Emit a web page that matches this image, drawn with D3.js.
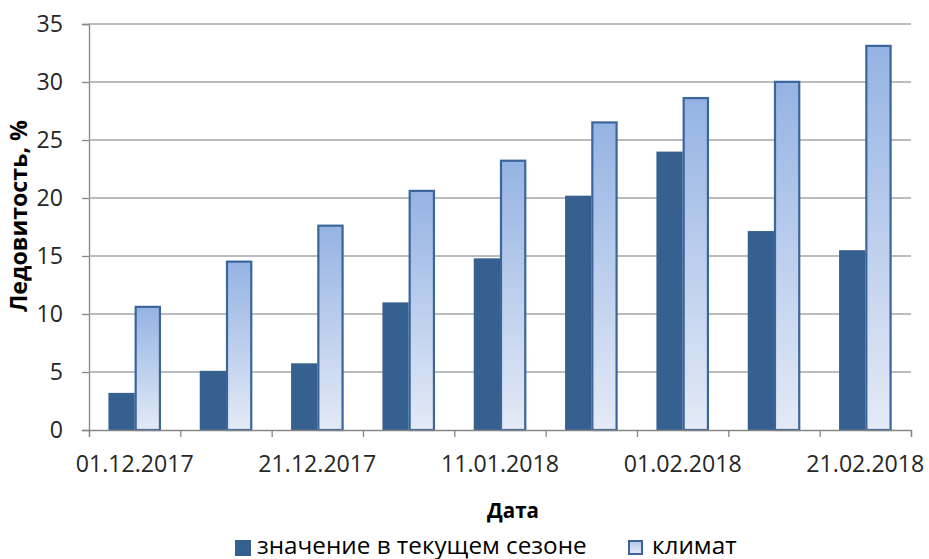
<!DOCTYPE html>
<html><head><meta charset="utf-8">
<script src="https://cdn.jsdelivr.net/npm/d3@7"></script>
<style>body{margin:0;background:#fff}svg{display:block}</style>
</head><body>
<script>
const categories = ["p1","p2","p3","p4","p5","p6","p7","p8","p9"];
const seasonValues = [3.2, 5.1, 5.75, 11.0, 14.8, 20.2, 24.0, 17.15, 15.5];
const climateValues = [10.7, 14.6, 17.7, 20.7, 23.3, 26.6, 28.7, 30.1, 33.2];
const xTickLabels = ["01.12.2017","","21.12.2017","","11.01.2018","","01.02.2018","","21.02.2018"];
const yTicks = [0,5,10,15,20,25,30,35];
const seriesNames = ["значение в текущем сезоне","климат"];

(function(){
const W=929,H=559;
const mL=89,mR=911,mT=24,mB=430;
const font="'Open Sans', sans-serif";
const svg=d3.select("body").append("svg").attr("width",W).attr("height",H);
function fit(sel,target){const n=sel.node();const fs=+sel.attr("font-size");const w=n.getComputedTextLength();sel.attr("font-size",fs*target/w);return fs*target/w;}
const defs=svg.append("defs");
const grad=defs.append("linearGradient").attr("id","lg").attr("x1",0).attr("y1",0).attr("x2",0).attr("y2",1);
grad.append("stop").attr("offset","0%").attr("stop-color","#95b3e3");
grad.append("stop").attr("offset","100%").attr("stop-color","#e4eaf6");
const lgr=defs.append("linearGradient").attr("id","lgl").attr("x1",0).attr("y1",0).attr("x2",0).attr("y2",1);
lgr.append("stop").attr("offset","0%").attr("stop-color","#b4c8ea");
lgr.append("stop").attr("offset","100%").attr("stop-color","#e4eaf6");

const y=d3.scaleLinear().domain([0,35]).range([mB,mT]);
const xb=d3.scaleBand().domain(categories).range([mL,mR]).paddingInner(0.425).paddingOuter(0.2125);
const xc=d3.scaleBand().domain(categories).range([mL,mR]);
const xl=d3.scaleLinear().domain([0,categories.length]).range([mL,mR]);
const x2=d3.scaleBand().domain([0,1]).range([0,xb.bandwidth()]);

const probe=svg.append("text").attr("font-family",font).attr("font-size",20).text("01.12.2017");
const tickFs=fit(probe,118); probe.remove();

const gy=svg.append("g").attr("transform",`translate(${mL},0)`)
 .call(d3.axisLeft(y).tickValues(yTicks).tickSize(7).tickPadding(19).tickFormat(d3.format("d")));
gy.select(".domain").attr("stroke","#868686").attr("stroke-width",1.3);
gy.selectAll(".tick line").attr("stroke","#868686").attr("stroke-width",1.3);
gy.selectAll(".tick text").attr("font-family",font).attr("font-size",tickFs).attr("fill","#262626");
svg.append("g").selectAll("line").data(yTicks.filter(d=>d>0)).join("line")
 .attr("x1",mL).attr("x2",mR).attr("y1",d=>y(d)).attr("y2",d=>y(d))
 .attr("stroke","#a6a6a6").attr("stroke-width",1.5);

const g=svg.append("g");
g.selectAll("rect.s").data(seasonValues).join("rect").attr("class","s")
 .attr("x",(d,i)=>xb(categories[i])+x2(0)).attr("width",x2.bandwidth())
 .attr("y",d=>y(d)).attr("height",d=>y(0)-y(d)).attr("fill","#36608f");
g.selectAll("rect.c").data(climateValues).join("rect").attr("class","c")
 .attr("x",(d,i)=>xb(categories[i])+x2(1)+1).attr("width",x2.bandwidth()-2)
 .attr("y",d=>y(d)+1).attr("height",d=>y(0)-y(d)-1).attr("fill","url(#lg)")
 .attr("stroke","#3b659b").attr("stroke-width",2.2);

const gx=svg.append("g").attr("transform",`translate(0,${mB})`)
 .call(d3.axisBottom(xl).tickValues(d3.range(categories.length+1)).tickSize(7).tickFormat(""));
gx.select(".domain").attr("stroke","#868686").attr("stroke-width",1.3);
gx.selectAll(".tick line").attr("stroke","#868686").attr("stroke-width",1.3);
svg.append("g").selectAll("text").data(xTickLabels).join("text")
 .attr("x",(d,i)=>xc(categories[i])+xc.bandwidth()/2).attr("y",mB+42)
 .attr("text-anchor","middle").attr("font-family",font).attr("font-size",tickFs).attr("fill","#262626").text(d=>d);

const yt=svg.append("text").attr("transform",`translate(27,216) rotate(-90)`)
 .attr("text-anchor","middle").attr("font-family",font).attr("font-weight","bold").attr("font-size",19)
 .attr("fill","#000").text("Ледовитость, %");
fit(yt,192);
const xt=svg.append("text").attr("x",513).attr("y",518).attr("text-anchor","middle").attr("font-family",font)
 .attr("font-weight","bold").attr("font-size",19).attr("fill","#000").text("Дата");
fit(xt,52);

const leg=svg.append("g");
leg.append("rect").attr("x",235).attr("y",540).attr("width",16).attr("height",16).attr("fill","#36608f");
const l1=leg.append("text").attr("x",257).attr("y",553.5).attr("font-family",font).attr("font-size",20).attr("fill","#000").text(seriesNames[0]);
const lfs=fit(l1,330);
leg.append("rect").attr("x",629).attr("y",541).attr("width",13).attr("height",13).attr("fill","url(#lgl)").attr("stroke","#3b659b").attr("stroke-width",2);
leg.append("text").attr("x",652).attr("y",553.5).attr("font-family",font).attr("font-size",lfs).attr("fill","#000").text(seriesNames[1]);
})();
</script>
</body></html>
